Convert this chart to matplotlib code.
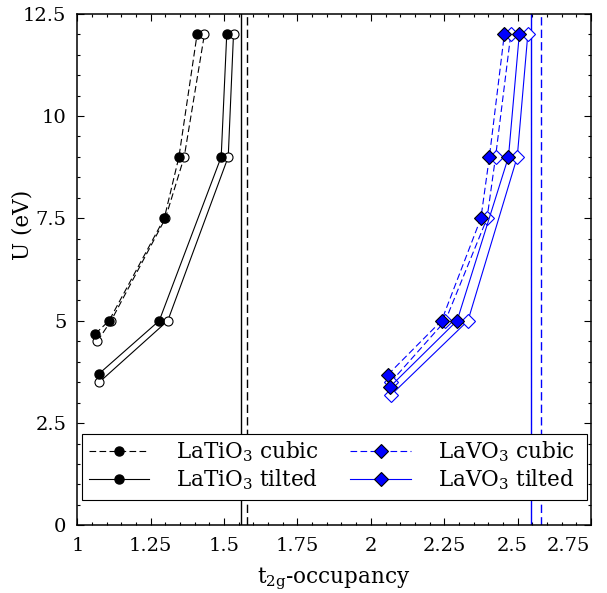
import matplotlib
matplotlib.use('Agg')
import matplotlib.pyplot as plt
from matplotlib.ticker import MultipleLocator, FormatStrFormatter
from matplotlib.patches import Rectangle
import matplotlib.transforms as mtransforms

plt.rcParams['font.family'] = ['DejaVu Serif']
plt.rcParams['mathtext.fontset'] = 'dejavuserif'

# LaTiO3 cubic (filled / open markers)
ti_cubic_u = [4.68, 5.0, 7.5, 9.0, 12.0]
ti_cubic_occ = [1.061, 1.108, 1.296, 1.346, 1.408]
ti_cubic_u2 = [4.50, 5.0, 7.5, 9.0, 12.0]
ti_cubic_occ2 = [1.068, 1.115, 1.300, 1.364, 1.433]

# LaTiO3 tilted
ti_tilt_u = [3.70, 5.0, 9.0, 12.0]
ti_tilt_occ = [1.073, 1.279, 1.490, 1.509]
ti_tilt_u2 = [3.50, 5.0, 9.0, 12.0]
ti_tilt_occ2 = [1.075, 1.308, 1.514, 1.532]

# LaVO3 cubic
v_cubic_u = [3.68, 5.0, 7.5, 9.0, 12.0]
v_cubic_occ = [2.058, 2.241, 2.375, 2.404, 2.455]
v_cubic_u2 = [3.50, 5.0, 7.5, 9.0, 12.0]
v_cubic_occ2 = [2.068, 2.254, 2.396, 2.425, 2.477]

# LaVO3 tilted
v_tilt_u = [3.39, 5.0, 9.0, 12.0]
v_tilt_occ = [2.066, 2.294, 2.469, 2.506]
v_tilt_u2 = [3.18, 5.0, 9.0, 12.0]
v_tilt_occ2 = [2.068, 2.331, 2.499, 2.535]

# reference occupancies (vertical lines)
ti_ref = {'tilted': 1.558, 'cubic': 1.579}
v_ref = {'tilted': 2.547, 'cubic': 2.581}

fig = plt.figure(figsize=(6.07, 5.93), dpi=100)
ax = fig.add_axes([0.1275, 0.114, 0.846, 0.863])

lw = 0.8
dash = (0, (6, 3))

ax.axvline(ti_ref['tilted'], color='black', lw=1.0)
ax.axvline(ti_ref['cubic'], color='black', lw=1.0, ls=dash)
ax.axvline(v_ref['tilted'], color='blue', lw=1.0)
ax.axvline(v_ref['cubic'], color='blue', lw=1.0, ls=dash)

# open markers first
ax.plot(ti_cubic_occ2, ti_cubic_u2, color='black', lw=lw, ls=dash, marker='o', ms=6.5,
        mfc='white', mec='black', mew=0.8)
ax.plot(ti_tilt_occ2, ti_tilt_u2, color='black', lw=lw, marker='o', ms=6.5,
        mfc='white', mec='black', mew=0.8)
ax.plot(v_cubic_occ2, v_cubic_u2, color='blue', lw=lw, ls=dash, marker='D', ms=7,
        mfc='white', mec='blue', mew=0.8)
ax.plot(v_tilt_occ2, v_tilt_u2, color='blue', lw=lw, marker='D', ms=7,
        mfc='white', mec='blue', mew=0.8)

l1, = ax.plot(ti_cubic_occ, ti_cubic_u, color='black', lw=lw, ls=dash, marker='o', ms=6.5,
              mfc='black', mec='black', label='LaTiO$_3$ cubic')
l2, = ax.plot(ti_tilt_occ, ti_tilt_u, color='black', lw=lw, marker='o', ms=6.5,
              mfc='black', mec='black', label='LaTiO$_3$ tilted')
l3, = ax.plot(v_cubic_occ, v_cubic_u, color='blue', lw=lw, ls=dash, marker='D', ms=7,
              mfc='blue', mec='black', mew=0.8, label='LaVO$_3$ cubic')
l4, = ax.plot(v_tilt_occ, v_tilt_u, color='blue', lw=lw, marker='D', ms=7,
              mfc='blue', mec='black', mew=0.8, label='LaVO$_3$ tilted')

ax.set_xlim(1, 2.75)
ax.set_ylim(0, 12.5)
ax.xaxis.set_major_locator(MultipleLocator(0.25))
ax.xaxis.set_minor_locator(MultipleLocator(0.05))
ax.yaxis.set_major_locator(MultipleLocator(2.5))
ax.yaxis.set_minor_locator(MultipleLocator(0.5))
ax.xaxis.set_major_formatter(FormatStrFormatter('%g'))
ax.yaxis.set_major_formatter(FormatStrFormatter('%g'))
ax.tick_params(which='both', direction='in', top=True, right=True, labelsize=14, width=0.8)
ax.tick_params(which='major', length=5, pad=8)
ax.tick_params(which='minor', length=2.5)
for s in ax.spines.values():
    s.set_linewidth(1.1)

# crowded labels at the right end nudged left
shifts = {'2.5': -4, '2.75': -16}
fig.canvas.draw()
for t in ax.get_xticklabels():
    if t.get_text() in shifts:
        t.set_transform(t.get_transform() + mtransforms.ScaledTranslation(shifts[t.get_text()] / 72, 0, fig.dpi_scale_trans))

ax.set_xlabel('t$_\\mathrm{2g}$-occupancy', fontsize=15.5, labelpad=8)
ax.set_ylabel('U (eV)', fontsize=15.5)
ax.yaxis.set_label_coords(-0.0845, 0.587)

# white legend box
box = Rectangle((0.0099, 0.0506), 0.9823, 0.1289, transform=ax.transAxes, facecolor='white',
                edgecolor='black', lw=0.8, zorder=4)
ax.add_patch(box)

leg = ax.legend(handles=[l1, l2, l3, l4], ncol=2, loc='lower left', bbox_to_anchor=(0.01, 0.052),
                fontsize=15.5, handlelength=2.8, columnspacing=1.45, handletextpad=1.26,
                frameon=False, borderaxespad=0, labelspacing=0.15, borderpad=0.3)
leg.set_zorder(5)

fig.savefig('out.png', dpi=100)
